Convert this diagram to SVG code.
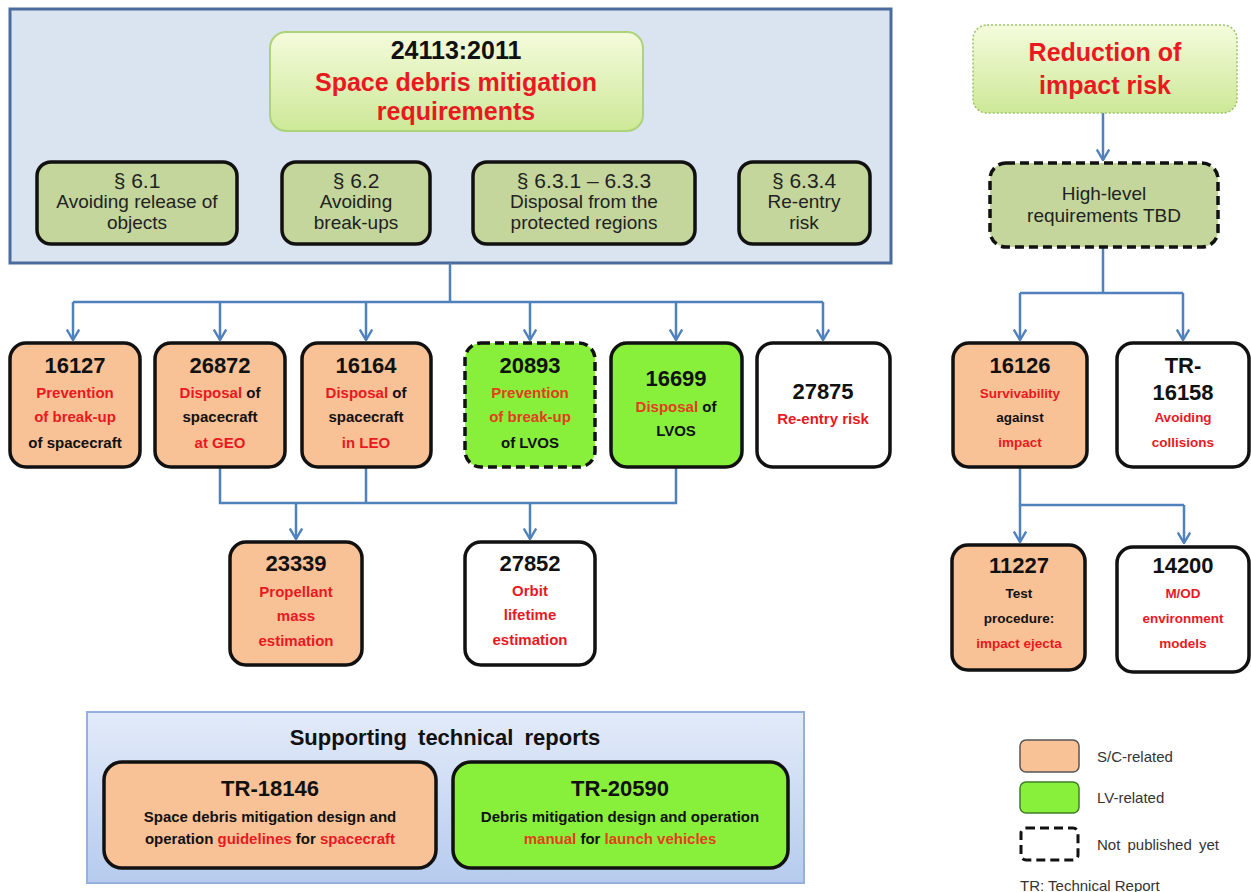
<svg xmlns="http://www.w3.org/2000/svg" width="1251" height="892" viewBox="0 0 1251 892">
<defs>
<linearGradient id="gTitle" x1="0" y1="0" x2="0" y2="1">
<stop offset="0" stop-color="#f4fbdc"/><stop offset="1" stop-color="#cde897"/>
</linearGradient>
<linearGradient id="gSup" x1="0" y1="0" x2="0" y2="1">
<stop offset="0" stop-color="#e3ebf9"/><stop offset="1" stop-color="#b6cbee"/>
</linearGradient>
<marker id="arr" viewBox="0 0 12 14" refX="11" refY="7" markerUnits="userSpaceOnUse" markerWidth="12" markerHeight="14" orient="auto">
<path d="M0.5,0.8 L11,7 L0.5,13.2" fill="none" stroke="#4f81bd" stroke-width="2.4"/>
</marker>
<style>
text{font-family:"Liberation Sans",Arial,sans-serif;text-anchor:middle;fill:#111}
.b{font-weight:bold}
.num{font-size:22px;font-weight:bold}
.sub{font-size:15px;font-weight:bold}
.subr{font-size:13.5px;font-weight:bold}
.sec{font-size:19px;fill:#222}
.secn{font-size:21px;fill:#222}
.r{fill:#e8191f}
.ro{fill:#e0401e}
.orange{fill:#f9c196;stroke:#111;stroke-width:3.5}
.green{fill:#88f03a;stroke:#111;stroke-width:3.5}
.white{fill:#ffffff;stroke:#111;stroke-width:3.5}
.dash{stroke-dasharray:9 5}
.olive{fill:#c4d69b;stroke:#111;stroke-width:3.5}
.con{fill:none;stroke:#4f81bd;stroke-width:2.5}
.leg{font-size:15px;fill:#333;text-anchor:start}
</style>
</defs>
<rect width="1251" height="892" fill="#ffffff"/>

<g id="main-standard">
<rect x="10" y="9" width="881" height="254" fill="#dae3f0" stroke="#4a6c9c" stroke-width="3"/>
</g>
<g id="title-24113">
<rect x="270" y="32" width="373" height="99" rx="16" fill="url(#gTitle)" stroke="#acd37a" stroke-width="2"/>
<text x="456" y="59" class="b" font-size="25">24113:2011</text>
<text x="456" y="91" class="b r" font-size="25">Space debris mitigation</text>
<text x="456" y="120" class="b r" font-size="25">requirements</text>
</g>
<g id="sec-6-1">
<rect x="37" y="162" width="200" height="82" rx="14" class="olive"/>
<text x="137" y="188" class="secn">§ 6.1</text>
<text x="137" y="208" class="sec">Avoiding release of</text>
<text x="137" y="229" class="sec">objects</text>
</g>
<g id="sec-6-2">
<rect x="282" y="162" width="148" height="82" rx="14" class="olive"/>
<text x="356" y="188" class="secn">§ 6.2</text>
<text x="356" y="208" class="sec">Avoiding</text>
<text x="356" y="229" class="sec">break-ups</text>
</g>
<g id="sec-6-3-1">
<rect x="473" y="162" width="222" height="82" rx="14" class="olive"/>
<text x="584" y="188" class="secn">§ 6.3.1 – 6.3.3</text>
<text x="584" y="208" class="sec">Disposal from the</text>
<text x="584" y="229" class="sec">protected regions</text>
</g>
<g id="sec-6-3-4">
<rect x="739" y="162" width="131" height="82" rx="14" class="olive"/>
<text x="804" y="188" class="secn">§ 6.3.4</text>
<text x="804" y="208" class="sec">Re-entry</text>
<text x="804" y="229" class="sec">risk</text>
</g>

<g id="connectors">
<path class="con" d="M450,263 V302 M73,302 H823"/>
<path class="con" d="M73,302 V340" marker-end="url(#arr)"/>
<path class="con" d="M220,302 V340" marker-end="url(#arr)"/>
<path class="con" d="M366,302 V340" marker-end="url(#arr)"/>
<path class="con" d="M530,302 V340" marker-end="url(#arr)"/>
<path class="con" d="M676,302 V340" marker-end="url(#arr)"/>
<path class="con" d="M823,302 V340" marker-end="url(#arr)"/>
<path class="con" d="M220,467 V503 H676 V467 M366,467 V503"/>
<path class="con" d="M296,503 V539" marker-end="url(#arr)"/>
<path class="con" d="M530,503 V539" marker-end="url(#arr)"/>
<path class="con" d="M1103,113 V160" marker-end="url(#arr)"/>
<path class="con" d="M1103,247 V293 M1020,293 H1183"/>
<path class="con" d="M1020,293 V340" marker-end="url(#arr)"/>
<path class="con" d="M1183,293 V340" marker-end="url(#arr)"/>
<path class="con" d="M1020,467 V505 H1184"/>
<path class="con" d="M1020,505 V542" marker-end="url(#arr)"/>
<path class="con" d="M1184,505 V543" marker-end="url(#arr)"/>
</g>

<g id="n16127">
<rect x="10" y="343" width="130" height="124" rx="16" class="orange"/>
<text x="75" y="373" class="num">16127</text>
<text x="75" y="398" class="sub r">Prevention</text>
<text x="75" y="422" class="sub r">of break-up</text>
<text x="75" y="448" class="sub">of spacecraft</text>
</g>
<g id="n26872">
<rect x="155" y="343" width="130" height="124" rx="16" class="orange"/>
<text x="220" y="373" class="num">26872</text>
<text x="220" y="398" class="sub"><tspan class="r">Disposal</tspan> of</text>
<text x="220" y="422" class="sub">spacecraft</text>
<text x="220" y="448" class="sub r">at GEO</text>
</g>
<g id="n16164">
<rect x="302" y="343" width="129" height="124" rx="16" class="orange"/>
<text x="366" y="373" class="num">16164</text>
<text x="366" y="398" class="sub"><tspan class="r">Disposal</tspan> of</text>
<text x="366" y="422" class="sub">spacecraft</text>
<text x="366" y="448" class="sub r">in LEO</text>
</g>
<g id="n20893">
<rect x="465" y="343" width="130" height="124" rx="16" class="green dash"/>
<text x="530" y="373" class="num">20893</text>
<text x="530" y="398" class="sub ro">Prevention</text>
<text x="530" y="422" class="sub ro">of break-up</text>
<text x="530" y="448" class="sub">of LVOS</text>
</g>
<g id="n16699">
<rect x="611" y="343" width="131" height="124" rx="16" class="green"/>
<text x="676" y="386" class="num">16699</text>
<text x="676" y="412" class="sub"><tspan class="ro">Disposal</tspan> of</text>
<text x="676" y="436" class="sub">LVOS</text>
</g>
<g id="n27875">
<rect x="757" y="343" width="133" height="124" rx="16" class="white"/>
<text x="823" y="399" class="num">27875</text>
<text x="823" y="424" class="sub r">Re-entry risk</text>
</g>
<g id="n23339">
<rect x="230" y="542" width="132" height="123" rx="16" class="orange"/>
<text x="296" y="571" class="num">23339</text>
<text x="296" y="597" class="sub r">Propellant</text>
<text x="296" y="621" class="sub r">mass</text>
<text x="296" y="646" class="sub r">estimation</text>
</g>
<g id="n27852">
<rect x="465" y="542" width="130" height="123" rx="16" class="white"/>
<text x="530" y="571" class="num">27852</text>
<text x="530" y="596" class="sub r">Orbit</text>
<text x="530" y="620" class="sub r">lifetime</text>
<text x="530" y="645" class="sub r">estimation</text>
</g>

<g id="reduction">
<rect x="973" y="25" width="264" height="88" rx="14" fill="url(#gTitle)" stroke="#9cc36a" stroke-width="1.5" stroke-dasharray="2 2"/>
<text x="1105" y="61" class="b r" font-size="25">Reduction of</text>
<text x="1105" y="94" class="b r" font-size="25">impact risk</text>
</g>
<g id="high-level">
<rect x="990" y="163" width="228" height="84" rx="16" class="olive dash"/>
<text x="1104" y="200" class="sec" fill="#333">High-level</text>
<text x="1104" y="222" class="sec">requirements TBD</text>
</g>
<g id="n16126">
<rect x="953" y="343" width="134" height="124" rx="16" class="orange"/>
<text x="1020" y="373" class="num" font-size="23">16126</text>
<text x="1020" y="398" class="subr r">Survivability</text>
<text x="1020" y="422" class="subr">against</text>
<text x="1020" y="447" class="subr r">impact</text>
</g>
<g id="tr16158">
<rect x="1117" y="343" width="132" height="124" rx="16" class="white"/>
<text x="1183" y="373" class="num" font-size="23">TR-</text>
<text x="1183" y="400" class="num" font-size="23">16158</text>
<text x="1183" y="422" class="subr r">Avoiding</text>
<text x="1183" y="447" class="subr r">collisions</text>
</g>
<g id="n11227">
<rect x="952" y="545" width="133" height="125" rx="16" class="orange"/>
<text x="1019" y="573" class="num" font-size="23">11227</text>
<text x="1019" y="598" class="subr">Test</text>
<text x="1019" y="623" class="subr">procedure:</text>
<text x="1019" y="648" class="subr r">impact ejecta</text>
</g>
<g id="n14200">
<rect x="1117" y="547" width="132" height="125" rx="16" class="white"/>
<text x="1183" y="573" class="num" font-size="23">14200</text>
<text x="1183" y="598" class="subr r">M/OD</text>
<text x="1183" y="623" class="subr r">environment</text>
<text x="1183" y="648" class="subr r">models</text>
</g>

<g id="supporting">
<rect x="87" y="712" width="717" height="171" fill="url(#gSup)" stroke="#93b1dc" stroke-width="2"/>
<text x="445" y="745" class="b" font-size="22" word-spacing="5">Supporting technical reports</text>
</g>
<g id="tr18146">
<rect x="104" y="762" width="332" height="106" rx="18" class="orange"/>
<text x="270" y="796" class="b" font-size="22">TR-18146</text>
<text x="270" y="822" class="sub" font-size="14">Space debris mitigation design and</text>
<text x="270" y="844" class="sub" font-size="14">operation <tspan class="r">guidelines</tspan> for <tspan class="r">spacecraft</tspan></text>
</g>
<g id="tr20590">
<rect x="453" y="762" width="335" height="106" rx="18" class="green"/>
<text x="620" y="796" class="b" font-size="22">TR-20590</text>
<text x="620" y="822" class="sub" font-size="14">Debris mitigation design and operation</text>
<text x="620" y="844" class="sub" font-size="14"><tspan class="ro">manual</tspan> for <tspan class="ro">launch vehicles</tspan></text>
</g>

<g id="legend">
<rect x="1020" y="740" width="59" height="32" rx="6" fill="#f9c196" stroke="#555" stroke-width="1.5"/>
<text x="1097" y="762" class="leg">S/C-related</text>
<rect x="1020" y="782" width="59" height="31" rx="6" fill="#88f03a" stroke="#3f7f2a" stroke-width="1.5"/>
<text x="1097" y="803" class="leg">LV-related</text>
<rect x="1021" y="828" width="57" height="32" rx="5" fill="#ffffff" stroke="#111" stroke-width="3" stroke-dasharray="9 5"/>
<text x="1097" y="850" class="leg" word-spacing="3">Not published yet</text>
<text x="1020" y="891" class="leg">TR: Technical Report</text>
</g>
</svg>
